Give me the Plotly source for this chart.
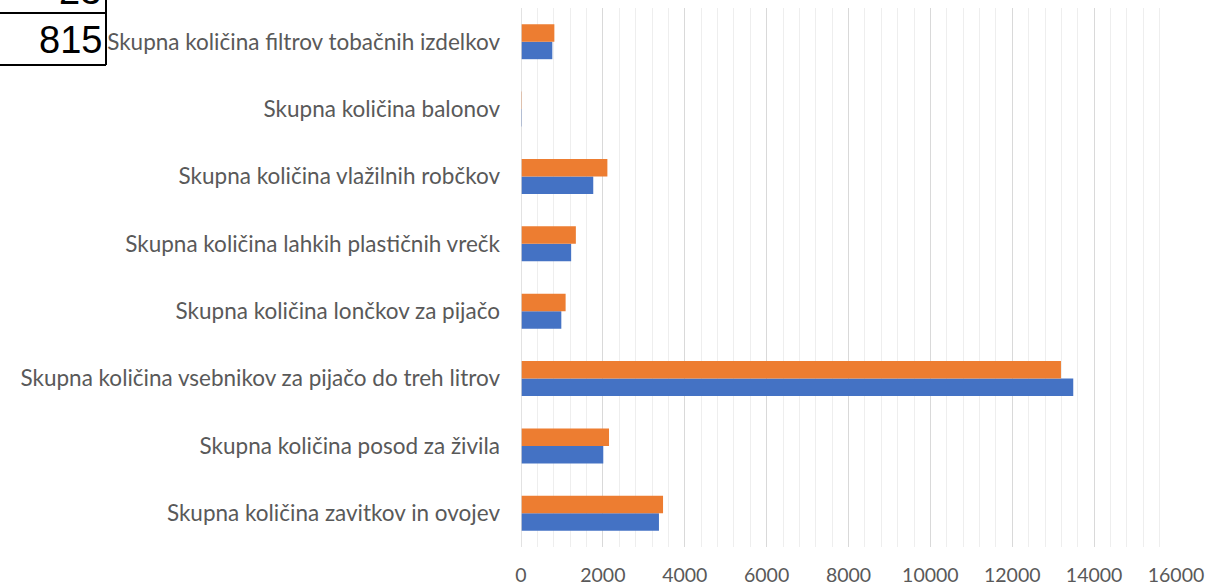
import plotly.graph_objects as go

categories = [
    "Skupna količina zavitkov in ovojev",
    "Skupna količina posod za živila",
    "Skupna količina vsebnikov za pijačo do treh litrov",
    "Skupna količina lončkov za pijačo",
    "Skupna količina lahkih plastičnih vrečk",
    "Skupna količina vlažilnih robčkov",
    "Skupna količina balonov",
    "Skupna količina filtrov tobačnih izdelkov",
]
series_blue = [3370, 2010, 13490, 985, 1225, 1765, 20, 765]
series_orange = [3470, 2150, 13190, 1090, 1340, 2110, 23, 815]
x_tick_values = [0, 2000, 4000, 6000, 8000, 10000, 12000, 14000, 16000]
table_cells = ["23", "815"]

W, H = 1214, 587
L, R, T, B = 521, 38, 8, 40
pw, ph = W - L - R, H - T - B

def px(x):
    return (x - L) / pw

def py(y):
    return (H - B - y) / ph

fig = go.Figure()
fig.add_trace(go.Bar(y=categories, x=series_blue, orientation="h",
                     marker=dict(color="#4472C4", line=dict(width=0)), name="Serija 1"))
fig.add_trace(go.Bar(y=categories, x=series_orange, orientation="h",
                     marker=dict(color="#ED7D31", line=dict(width=0)), name="Serija 2"))

font_family = "Lato, 'Open Sans', Arial, sans-serif"
fig.update_layout(
    width=W, height=H,
    margin=dict(l=L, r=R, t=T, b=B, pad=0, autoexpand=False),
    paper_bgcolor="white", plot_bgcolor="white",
    barmode="group", bargap=0.48, bargroupgap=0,
    showlegend=False,
    font=dict(family=font_family, color="#595959", size=20),
    xaxis=dict(range=[0, 16000], tickvals=x_tick_values,
               ticktext=[str(v) for v in x_tick_values],
               showgrid=True, gridcolor="#D9D9D9", gridwidth=1.3,
               minor=dict(dtick=400, showgrid=True, gridcolor="#EEEEEE", gridwidth=1.3),
               zeroline=False, showline=False,
               ticklabelstandoff=14,
               tickfont=dict(size=19.5, color="#595959")),
    yaxis=dict(showgrid=False, zeroline=False, showline=False,
               ticklabelstandoff=20,
               tickfont=dict(size=22.5, color="#595959")),
)

# vertical category axis line, light grey
fig.add_shape(type="line", xref="x", yref="paper", x0=0, x1=0, y0=0, y1=1,
              line=dict(color="#D9D9D9", width=1.5))

# table fragment top-left
line_style = dict(color="black", width=2)
fig.add_shape(type="line", xref="paper", yref="paper", x0=px(0), x1=px(106),
              y0=py(13), y1=py(13), line=line_style)
fig.add_shape(type="line", xref="paper", yref="paper", x0=px(106), x1=px(106),
              y0=py(-2), y1=py(65), line=line_style)
fig.add_shape(type="line", xref="paper", yref="paper", x0=px(0), x1=px(106),
              y0=py(65), y1=py(65), line=line_style)
fig.add_annotation(xref="paper", yref="paper", x=px(103), y=py(-9),
                   xanchor="right", yanchor="middle", text=table_cells[0],
                   showarrow=False, font=dict(family="Liberation Sans, Arial", size=38, color="black"))
fig.add_annotation(xref="paper", yref="paper", x=px(104), y=py(40),
                   xanchor="right", yanchor="middle", text=table_cells[1],
                   showarrow=False, font=dict(family="Liberation Sans, Arial", size=38, color="black"))

fig.write_html("out.html", config={"displayModeBar": False},
               post_script="document.body.style.margin='0';document.body.style.overflow='hidden';")
